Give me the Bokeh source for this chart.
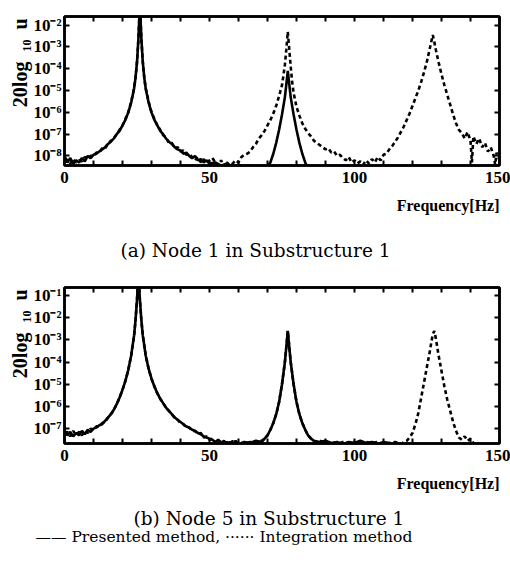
from bokeh.plotting import figure
from bokeh.layouts import column
from bokeh.models import Range1d, FixedTicker, LinearAxis, Title
from bokeh.embed import file_html
from bokeh.resources import INLINE

# ---------------- data (log10 of amplitude) ----------------
x_ticks = [0, 10, 20, 30, 40, 50, 60, 70, 80, 90, 100, 110, 120, 130, 140, 150]
x_tick_labels = {0: "0", 50: "50", 100: "100", 150: "150"}
y_ticks_a = [-2, -3, -4, -5, -6, -7, -8]
y_ticks_b = [-1, -2, -3, -4, -5, -6, -7]

# (a) Node 1 in Substructure 1 -- presented method (solid)
a_solid_f = [0, 1, 2, 3, 4, 5, 6, 7, 8, 9, 10, 11, 12, 13, 14, 15, 16, 17, 18, 19, 20, 21, 22, 23, 24, 24.5, 25, 25.5, 26,
             26.5, 27, 27.5, 28, 29, 30, 31, 32, 33, 34, 35, 36, 37, 38, 39, 40, 41, 42, 43, 44, 45, 46, 47, 48, 49, 50,
             52, 54, 56, 58, 60, 62, 64, 66, 68, 70, 71, 72, 73, 74, 75, 76, 76.5, 77, 77.5, 78, 79, 80, 81, 82, 83, 84,
             86, 90, 150]
a_solid_v = [-8.0, -8.3, -8.1, -8.35, -8.2, -8.3, -8.1, -8.25, -8.0, -8.1, -7.95, -7.9, -7.8, -7.7, -7.6, -7.45, -7.35,
             -7.2, -7.0, -6.85, -6.6, -6.35, -6.0, -5.55, -4.9, -4.4, -3.7, -2.6, -1.0,
             -2.6, -3.7, -4.4, -4.9, -5.55, -6.0, -6.35, -6.6, -6.85, -7.0, -7.2, -7.35, -7.45, -7.6, -7.7, -7.75, -7.9,
             -7.85, -8.0, -8.1, -8.0, -8.2, -8.15, -8.3, -8.2, -8.35,
             -8.3, -8.45, -8.35, -8.5, -8.4, -8.5, -8.45, -8.5, -8.55, -8.5, -8.3, -7.9, -7.4, -6.8, -6.1, -5.3, -4.7,
             -4.1, -4.7, -5.3, -6.1, -6.8, -7.4, -7.9, -8.3, -8.6,
             -8.8, -9.0, -9.0]

# (a) integration method (dashed)
a_dash_f = [0, 1, 2, 3, 4, 5, 6, 7, 8, 9, 10, 11, 12, 13, 14, 15, 16, 17, 18, 19, 20, 21, 22, 23, 24, 24.5, 25, 25.5, 26,
            26.5, 27, 27.5, 28, 29, 30, 31, 32, 33, 34, 35, 36, 37, 38, 39, 40, 41, 42, 43, 44, 45, 46, 47, 48, 49, 50,
            51, 52, 53, 54, 55, 56, 57, 58, 59, 60, 61, 62, 63, 64, 65, 66, 67, 68, 69, 70, 71, 72, 73, 74, 75, 75.5,
            76, 76.5, 77, 77.5, 78, 78.5, 79, 80, 81, 82, 83, 84, 85, 86, 87, 88, 89, 90, 91, 92, 93, 94, 95, 96, 97,
            98, 99, 100, 101, 102, 103, 104, 105, 106, 107, 108, 109, 110, 111, 112, 113, 114, 115, 116, 117, 118, 119,
            120, 121, 122, 123, 124, 125, 126, 126.5, 127, 127.5, 128, 129, 130, 131, 132, 133, 134, 135, 136, 137,
            138, 139, 140, 140.5, 141, 142, 143, 144, 145, 146, 147, 148, 148.5, 149, 150]
a_dash_v = [-8.1, -8.2, -8.35, -8.15, -8.3, -8.2, -8.25, -8.05, -8.15, -8.0, -8.0, -7.85, -7.85, -7.65, -7.65, -7.45,
            -7.3, -7.2, -7.0, -6.8, -6.6, -6.3, -6.0, -5.5, -4.9, -4.4, -3.7, -2.6, -1.0,
            -2.6, -3.7, -4.4, -4.9, -5.5, -6.0, -6.3, -6.6, -6.8, -7.05, -7.15, -7.4, -7.4, -7.65, -7.6, -7.8, -7.75,
            -7.95, -7.9, -8.05, -8.2, -8.05, -8.3, -8.15, -8.35, -8.2,
            -8.1, -8.3, -8.45, -8.2, -8.5, -8.3, -8.45, -8.35, -8.2, -8.3, -8.05, -7.95, -7.9, -7.8, -7.6, -7.45, -7.2,
            -7.05, -6.85, -6.6, -6.35, -6.05, -5.7, -5.25, -4.75, -4.3,
            -3.8, -3.1, -2.3, -3.1, -3.9, -4.6, -5.1, -5.75, -6.15, -6.5, -6.75, -6.95, -7.1, -7.3, -7.4, -7.5, -7.6,
            -7.7, -7.65, -7.85, -7.8, -8.0, -7.95, -8.1, -8.2,
            -8.05, -8.3, -8.2, -8.35, -8.25, -8.4, -8.2, -8.35, -8.15, -8.3, -8.05, -8.2, -7.95, -7.9, -7.7, -7.55,
            -7.35, -7.15, -6.9, -6.65, -6.35, -6.05,
            -5.7, -5.35, -5.0, -4.6, -4.15, -3.65, -3.05, -2.75, -2.45, -2.75, -3.1, -3.7, -4.25, -4.75, -5.2, -5.65,
            -6.1, -6.5, -6.8, -6.95,
            -7.2, -6.9, -7.3, -8.3, -7.1, -7.45, -7.2, -7.6, -7.4, -7.8, -7.6, -8.0, -8.4, -7.85, -8.2]

# (b) Node 5 in Substructure 1 -- presented method (solid)
b_solid_f = [0, 1, 2, 3, 4, 5, 6, 7, 8, 9, 10, 11, 12, 13, 14, 15, 16, 17, 18, 19, 20, 21, 22, 23, 24, 24.5, 25, 25.5,
             26, 26.5, 27, 28, 29, 30, 31, 32, 33, 34, 35, 36, 37, 38, 39, 40, 41, 42, 43, 44, 45, 46, 47, 48, 49, 50,
             51, 52, 53, 54, 55, 56, 57, 58, 59, 60, 62, 64, 66, 68, 69, 70, 71, 72, 73, 74, 75, 76, 76.5, 77, 77.5, 78,
             79, 80, 81, 82, 83, 84, 85, 86, 88, 90, 92, 94, 96, 98, 100, 102, 104, 106, 108, 110, 112, 114, 116, 118,
             120, 150]
b_solid_v = [-7.1, -7.3, -7.15, -7.35, -7.2, -7.3, -7.1, -7.25, -7.05, -7.15, -7.0, -6.95, -6.85, -6.8, -6.65, -6.5,
             -6.35, -6.15, -5.9, -5.6, -5.25, -4.85, -4.35, -3.7, -2.8, -2.1, -1.2, 0.0,
             -1.2, -2.1, -2.8, -3.7, -4.3, -4.75, -5.1, -5.4, -5.65, -5.85, -6.05, -6.2, -6.35, -6.5, -6.6, -6.7, -6.8,
             -6.9, -6.95, -7.05, -7.1, -7.2, -7.25, -7.35, -7.4, -7.45,
             -7.5, -7.6, -7.5, -7.65, -7.55, -7.7, -7.6, -7.7, -7.55, -7.7, -7.6, -7.65, -7.55, -7.6, -7.45, -7.3,
             -7.05, -6.75, -6.35, -5.8, -5.0, -4.0, -3.3, -2.6, -3.3, -4.0,
             -5.0, -5.8, -6.35, -6.75, -7.05, -7.3, -7.45, -7.55, -7.6, -7.55, -7.65, -7.6, -7.7, -7.6, -7.65, -7.55,
             -7.65, -7.6, -7.7, -7.6, -7.65, -7.75, -7.9, -8.0,
             -8.5, -8.5]

# (b) integration method (dashed)
b_dash_f = [0, 1, 2, 3, 4, 5, 6, 7, 8, 9, 10, 11, 12, 13, 14, 15, 16, 17, 18, 19, 20, 21, 22, 23, 24, 24.5, 25, 25.5,
            26, 26.5, 27, 28, 29, 30, 31, 32, 33, 34, 35, 36, 37, 38, 39, 40, 41, 42, 43, 44, 45, 46, 47, 48, 49, 50,
            51, 52, 53, 54, 55, 56, 57, 58, 59, 60, 62, 64, 66, 68, 69, 70, 71, 72, 73, 74, 75, 76, 76.5, 77, 77.5, 78,
            79, 80, 81, 82, 83, 84, 85, 86, 88, 90, 92, 94, 96, 98, 100, 102, 104, 106, 108, 110, 112, 114, 116, 117,
            118, 119, 120, 121, 122, 123, 124, 125, 126, 126.5, 127, 127.5, 128, 128.5, 129, 130, 131, 132, 133, 134,
            135, 136, 137, 138, 139, 140, 141, 142, 144, 146, 150]
b_dash_v = [-7.2, -7.15, -7.35, -7.1, -7.3, -7.15, -7.3, -7.1, -7.2, -7.0, -7.05, -6.9, -6.9, -6.75, -6.7, -6.5, -6.35,
            -6.15, -5.9, -5.6, -5.25, -4.85, -4.35, -3.7, -2.8, -2.1, -1.2, 0.0,
            -1.2, -2.1, -2.8, -3.7, -4.3, -4.75, -5.1, -5.4, -5.65, -5.85, -6.05, -6.2, -6.35, -6.5, -6.6, -6.75, -6.8,
            -6.95, -6.95, -7.1, -7.1, -7.25, -7.2, -7.4, -7.35, -7.5,
            -7.45, -7.65, -7.55, -7.6, -7.7, -7.6, -7.7, -7.55, -7.7, -7.6, -7.7, -7.6, -7.65, -7.55, -7.45, -7.3,
            -7.05, -6.75, -6.35, -5.8, -5.0, -4.0, -3.3, -2.6, -3.3, -4.0,
            -5.0, -5.8, -6.35, -6.75, -7.05, -7.3, -7.45, -7.6, -7.55, -7.65, -7.6, -7.7, -7.6, -7.65, -7.6, -7.7,
            -7.6, -7.65, -7.6, -7.7, -7.65, -7.6, -7.7, -7.6,
            -7.55, -7.4, -7.2, -6.8, -6.3, -5.6, -4.9, -4.2, -3.5, -3.1, -2.75, -2.6, -2.9, -3.3, -3.7, -4.4, -5.1,
            -5.7, -6.2, -6.7,
            -7.1, -7.4, -7.5, -7.35, -7.55, -7.45, -7.65, -7.7, -7.8, -7.9, -8.0]

SUP = {"-": "\u207b", "1": "\u00b9", "2": "\u00b2", "3": "\u00b3", "4": "\u2074", "5": "\u2075",
       "6": "\u2076", "7": "\u2077", "8": "\u2078"}


def pow_label(e):
    return "10" + "".join(SUP[c] for c in str(e))


SERIF = "Liberation Serif"
W = 510


def make_panel(height, border_top, border_bottom, y_lo, y_hi, y_ticks,
               sf, sv, df, dv, freq_standoff, captions):
    p = figure(width=W, height=height, output_backend="svg", toolbar_location=None,
               x_range=Range1d(0, 150), y_range=Range1d(y_lo, y_hi),
               min_border_left=64, min_border_right=11,
               min_border_top=border_top, min_border_bottom=border_bottom)
    p.xgrid.visible = False
    p.ygrid.visible = False
    p.outline_line_color = "black"
    p.outline_line_width = 2.5
    p.background_fill_color = "white"
    p.border_fill_color = "white"

    xt = FixedTicker(ticks=x_ticks)
    yt = FixedTicker(ticks=y_ticks)
    xo = {t: x_tick_labels.get(t, "") for t in x_ticks}
    yo = {t: pow_label(t) for t in y_ticks}

    for ax in p.xaxis:
        ax.ticker = xt
        ax.major_label_overrides = xo
    for ax in p.yaxis:
        ax.ticker = yt
        ax.major_label_overrides = yo

    for ax in list(p.xaxis) + list(p.yaxis):
        ax.major_tick_in = 5
        ax.major_tick_out = 0
        ax.minor_tick_line_color = None
        ax.axis_line_width = 2.5
        ax.major_tick_line_width = 2
        ax.major_label_text_font = SERIF
        ax.major_label_text_font_style = "bold"
        ax.major_label_text_font_size = "17px"
        ax.major_label_text_color = "black"
        ax.major_label_standoff = 3
    for ax in p.xaxis:
        ax.major_label_standoff = 6

    top = LinearAxis(ticker=xt, major_label_overrides={t: "" for t in x_ticks},
                     major_label_text_font_size="0px", major_label_standoff=0,
                     major_tick_in=5, major_tick_out=0, minor_tick_line_color=None,
                     axis_line_width=2.5, major_tick_line_width=2)
    p.add_layout(top, "above")
    right = LinearAxis(ticker=yt, major_label_overrides={t: "" for t in y_ticks},
                       major_label_text_font_size="0px", major_label_standoff=0,
                       major_tick_in=5, major_tick_out=0, minor_tick_line_color=None,
                       axis_line_width=2.5, major_tick_line_width=2)
    p.add_layout(right, "right")

    p.line(sf, sv, line_color="black", line_width=2.6)
    p.line(df, dv, line_color="black", line_width=2.6, line_dash="4 3")

    p.add_layout(Title(text="20log\u2002\u2081\u2080\u2002u", align="right", offset=2, standoff=0,
                       text_color="black",
                       text_font=SERIF, text_font_style="bold", text_font_size="20px"), "left")
    p.add_layout(Title(text="Frequency[Hz]", align="right", offset=0, standoff=freq_standoff,
                       text_color="black",
                       text_font=SERIF, text_font_style="bold", text_font_size="16px"), "below")
    for (off, so, size, txt) in captions:
        p.add_layout(Title(text=txt, align="left", offset=off, standoff=so, text_color="black",
                           text_font="DejaVu Serif", text_font_style="normal",
                           text_font_size=size), "below")
    return p


p1 = make_panel(276, 16, 106, -8.44, -1.6, y_ticks_a, a_solid_f, a_solid_v, a_dash_f, a_dash_v, 18,
                [(56, 31, "18.5px", "(a)  Node 1 in Substructure 1")])
p2 = make_panel(288, 11, 121, -7.67, -0.64, y_ticks_b, b_solid_f, b_solid_v, b_dash_f, b_dash_v, 18,
                [(69, 10, "18.5px", "(b)  Node 5 in Substructure 1"),
                 (-29, -16, "15.5px",
                  "\u2014\u2014 Presented method,  \u00b7\u00b7\u00b7\u00b7\u00b7\u00b7 Integration method")])

layout = column(p1, p2, spacing=0)
open("out.html", "w").write(file_html(layout, INLINE))
